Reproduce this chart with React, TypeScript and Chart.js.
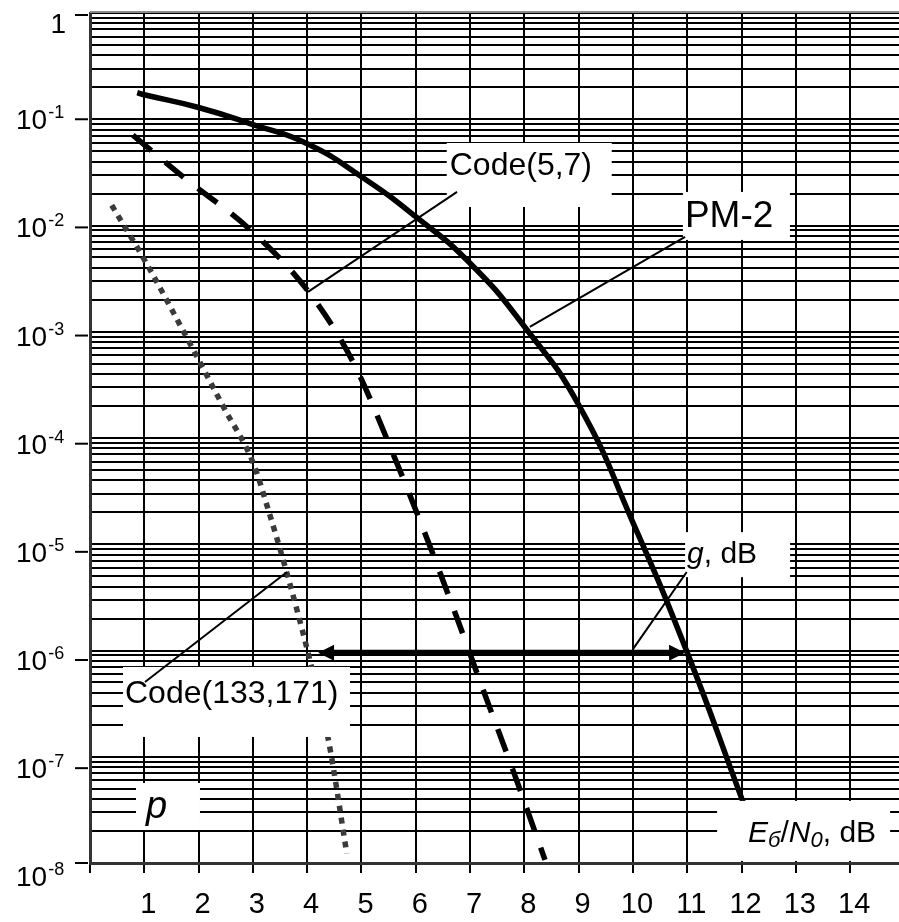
import React, { useEffect, useRef } from "react";
import { Chart, registerables } from "chart.js";

Chart.register(...registerables);

const FAMILY = "'Liberation Sans', Arial, sans-serif";

// ---- data ----
const xTickLabels = [1, 2, 3, 4, 5, 6, 7, 8, 9, 10, 11, 12, 13, 14];
const yDecades = [1, 1e-1, 1e-2, 1e-3, 1e-4, 1e-5, 1e-6, 1e-7, 1e-8];
const yDecadeExponents = ["", "-1", "-2", "-3", "-4", "-5", "-6", "-7", "-8"];

const pm2X = [0.87, 1, 2, 3, 4, 5, 6, 7, 8, 9, 10, 11, 12.03];
const pm2Y = [0.178, 0.17, 0.129, 0.0891, 0.0589, 0.0288, 0.0121, 0.00441, 0.00112, 2.05e-4, 1.6e-5, 9.55e-7, 3.72e-8];

const code57X = [0.79, 1.71, 2.95, 4.02, 4.84, 5.59, 6.17, 6.72, 7.24, 7.8, 8.38];
const code57Y = [0.0708, 0.0288, 0.00912, 0.0024, 5.25e-4, 6.92e-5, 1.26e-5, 2.29e-6, 4.27e-7, 7.24e-8, 1.07e-8];

const code133X = [0.4, 1.01, 1.84, 2.46, 3.01, 3.25, 3.62, 4.02, 4.39, 4.73];
const code133Y = [0.0155, 0.00468, 7.76e-4, 1.95e-4, 5.75e-5, 2.4e-5, 5.5e-6, 9.33e-7, 1.45e-7, 1.23e-8];

const gainArrowX = [4.2, 10.96];
const gainArrowY = 9.5e-7;

// ---- annotations (anchor in data units, sizes in px) ----
type Seg = { t: string; size: number; italic?: boolean; dy?: number };
type Annot = {
  segs: Seg[];
  at: [number, number];
  box: [number, number];
  textAt: [number, number];
  leader?: [[number, number], [number, number]];
};

const annotations: Annot[] = [
  {
    segs: [{ t: "Code(5,7)", size: 32 }],
    at: [6.57, 0.0598],
    box: [165, 64],
    textAt: [3, 32],
    leader: [[6.76, 0.0207], [4.015, 0.00237]],
  },
  {
    segs: [{ t: "PM-2", size: 37 }],
    at: [10.92, 0.0207],
    box: [107, 48],
    textAt: [2, 35],
    leader: [[10.96, 0.0078], [8.1, 0.00111]],
  },
  {
    segs: [{ t: "Code(133,171)", size: 32 }],
    at: [0.608, 7.0e-7],
    box: [227, 70],
    textAt: [2, 36],
    leader: [[3.628, 5.48e-6], [1.013, 5.06e-7]],
  },
  {
    segs: [{ t: "g", size: 30, italic: true }, { t: ", dB", size: 30 }],
    at: [10.96, 1.3e-5],
    box: [105, 45],
    textAt: [2, 31],
    leader: [[10.99, 5.48e-6], [10.0, 1.03e-6]],
  },
  {
    segs: [{ t: "p", size: 38, italic: true }],
    at: [0.847, 5.66e-8],
    box: [64, 47],
    textAt: [10, 35],
  },
  {
    segs: [
      { t: "E", size: 30, italic: true },
      { t: "б", size: 22, italic: true, dy: 5 },
      { t: "/", size: 30 },
      { t: "N", size: 30, italic: true },
      { t: "0", size: 22, italic: true, dy: 5 },
      { t: ", dB", size: 30 },
    ],
    at: [11.55, 3.84e-8],
    box: [173, 60],
    textAt: [31, 41],
  },
];

function gridValues(): number[] {
  const out: number[] = [];
  for (let k = -8; k < 0; k++) {
    for (let m = 1; m <= 9; m++) {
      out.push(Number((m * Math.pow(10, k)).toPrecision(3)));
    }
  }
  out.push(1);
  return out;
}

function drawRich(ctx: CanvasRenderingContext2D, segs: Seg[], x: number, baseline: number) {
  let cx = x;
  for (const s of segs) {
    ctx.font = `${s.italic ? "italic " : ""}${s.size}px ${FAMILY}`;
    ctx.fillText(s.t, cx, baseline + (s.dy || 0));
    cx += ctx.measureText(s.t).width;
  }
}

const overlayPlugin = {
  id: "overlay",
  afterDatasetsDraw(chart: any) {
    const { ctx, chartArea } = chart;
    const xs = chart.scales.x;
    const ys = chart.scales.y;
    ctx.save();
    for (const a of annotations) {
      const bx = xs.getPixelForValue(a.at[0]);
      const by = ys.getPixelForValue(a.at[1]);
      let h = a.box[1];
      if (by + h > chartArea.bottom - 2) h = chartArea.bottom - 2 - by;
      ctx.fillStyle = "#fff";
      ctx.fillRect(bx, by, a.box[0], h);
    }
    ctx.fillStyle = "#000";
    ctx.textBaseline = "alphabetic";
    ctx.textAlign = "left";
    for (const a of annotations) {
      const bx = xs.getPixelForValue(a.at[0]);
      const by = ys.getPixelForValue(a.at[1]);
      drawRich(ctx, a.segs, bx + a.textAt[0], by + a.textAt[1]);
    }
    ctx.strokeStyle = "#000";
    ctx.lineWidth = 2;
    for (const a of annotations) {
      if (!a.leader) continue;
      ctx.beginPath();
      ctx.moveTo(xs.getPixelForValue(a.leader[0][0]), ys.getPixelForValue(a.leader[0][1]));
      ctx.lineTo(xs.getPixelForValue(a.leader[1][0]), ys.getPixelForValue(a.leader[1][1]));
      ctx.stroke();
    }
    const ay = ys.getPixelForValue(gainArrowY);
    const ax1 = xs.getPixelForValue(gainArrowX[0]);
    const ax2 = xs.getPixelForValue(gainArrowX[1]);
    const hl = 16;
    const hw = 8;
    ctx.lineWidth = 6;
    ctx.lineCap = "butt";
    ctx.beginPath();
    ctx.moveTo(ax1 + hl - 2, ay);
    ctx.lineTo(ax2 - hl + 2, ay);
    ctx.stroke();
    ctx.fillStyle = "#000";
    ctx.beginPath();
    ctx.moveTo(ax1, ay);
    ctx.lineTo(ax1 + hl, ay - hw);
    ctx.lineTo(ax1 + hl, ay + hw);
    ctx.closePath();
    ctx.fill();
    ctx.beginPath();
    ctx.moveTo(ax2, ay);
    ctx.lineTo(ax2 - hl, ay - hw);
    ctx.lineTo(ax2 - hl, ay + hw);
    ctx.closePath();
    ctx.fill();
    ctx.restore();
  },
  afterDraw(chart: any) {
    const { ctx, chartArea } = chart;
    const ys = chart.scales.y;
    ctx.save();
    ctx.strokeStyle = "#8a8a8a";
    ctx.lineWidth = 2;
    ctx.beginPath();
    ctx.moveTo(chartArea.left, chartArea.top - 1);
    ctx.lineTo(chartArea.right, chartArea.top - 1);
    ctx.stroke();
    ctx.fillStyle = "#000";
    ctx.strokeStyle = "#000";
    ctx.textBaseline = "alphabetic";
    yDecades.forEach((v, k) => {
      const py = ys.getPixelForValue(v);
      let center = py;
      let tickY = py;
      if (k === 0) {
        center = chartArea.top + 9.5;
        tickY = py + 2;
      } else {
        center = py + (k - 1) * 1.9;
        tickY = k === 8 ? py : center;
      }
      ctx.lineWidth = 2;
      ctx.beginPath();
      ctx.moveTo(chartArea.left - 15, tickY);
      ctx.lineTo(chartArea.left - 2, tickY);
      ctx.stroke();
      const base = center + 10;
      if (k === 0) {
        ctx.font = `28px ${FAMILY}`;
        ctx.textAlign = "right";
        ctx.fillText("1", 66, base);
      } else {
        ctx.font = `28px ${FAMILY}`;
        ctx.textAlign = "left";
        ctx.fillText("10", 16, base);
        const w = ctx.measureText("10").width;
        ctx.font = `18px ${FAMILY}`;
        ctx.fillText(yDecadeExponents[k], 16 + w + 1, base - 11);
      }
    });
    ctx.restore();
  },
};

export default function App() {
  const ref = useRef<HTMLCanvasElement | null>(null);

  useEffect(() => {
    document.body.style.margin = "0";
    const canvas = ref.current;
    if (!canvas) return;
    const toPts = (xs: number[], ys: number[]) => xs.map((x, i) => ({ x, y: ys[i] }));
    const chart = new Chart(canvas, {
      type: "line",
      data: {
        datasets: [
          {
            label: "PM-2",
            data: toPts(pm2X, pm2Y),
            borderColor: "#000",
            borderWidth: 5.5,
            pointRadius: 0,
            tension: 0.5,
            fill: false,
          },
          {
            label: "Code(5,7)",
            data: toPts(code57X, code57Y),
            borderColor: "#000",
            borderWidth: 5.5,
            borderDash: [24, 18],
            borderCapStyle: "butt",
            pointRadius: 0,
            cubicInterpolationMode: "monotone",
            fill: false,
          },
          {
            label: "Code(133,171)",
            data: toPts(code133X, code133Y),
            borderColor: "#3a3a3a",
            borderWidth: 5.5,
            borderDash: [6, 6],
            borderCapStyle: "butt",
            pointRadius: 0,
            cubicInterpolationMode: "monotone",
            fill: false,
          },
        ],
      },
      options: {
        animation: false,
        responsive: false,
        devicePixelRatio: 1,
        layout: { padding: { top: 13, right: 0, left: 0, bottom: 0 } },
        plugins: { legend: { display: false }, tooltip: { enabled: false } },
        scales: {
          x: {
            type: "linear",
            min: 0,
            max: 14.9,
            afterFit: (s: any) => {
              s.height = 59;
            },
            ticks: {
              stepSize: 1,
              includeBounds: false,
              autoSkip: false,
              maxRotation: 0,
              minRotation: 0,
              color: "#000",
              font: { family: FAMILY, size: 29 },
              padding: 15,
              labelOffset: 4,
              callback: (v: any) => (xTickLabels.includes(Number(v)) ? String(v) : ""),
            },
            grid: { color: "#000", lineWidth: 2, drawTicks: true, tickLength: 10, tickColor: "#000" },
            border: { color: "#333", width: 3 },
          },
          y: {
            type: "logarithmic",
            min: 1e-8,
            max: 1,
            afterFit: (s: any) => {
              s.width = 90;
            },
            afterBuildTicks: (s: any) => {
              s.ticks = gridValues().map((v) => ({ value: v }));
            },
            ticks: { display: false },
            grid: { color: "#000", lineWidth: 2, drawTicks: false },
            border: { color: "#333", width: 3 },
          },
        },
      },
      plugins: [overlayPlugin],
    } as any);
    return () => chart.destroy();
  }, []);

  return (
    <div style={{ width: 899, height: 922, background: "#fff" }}>
      <canvas ref={ref} width={899} height={922} style={{ display: "block" }} />
    </div>
  );
}
